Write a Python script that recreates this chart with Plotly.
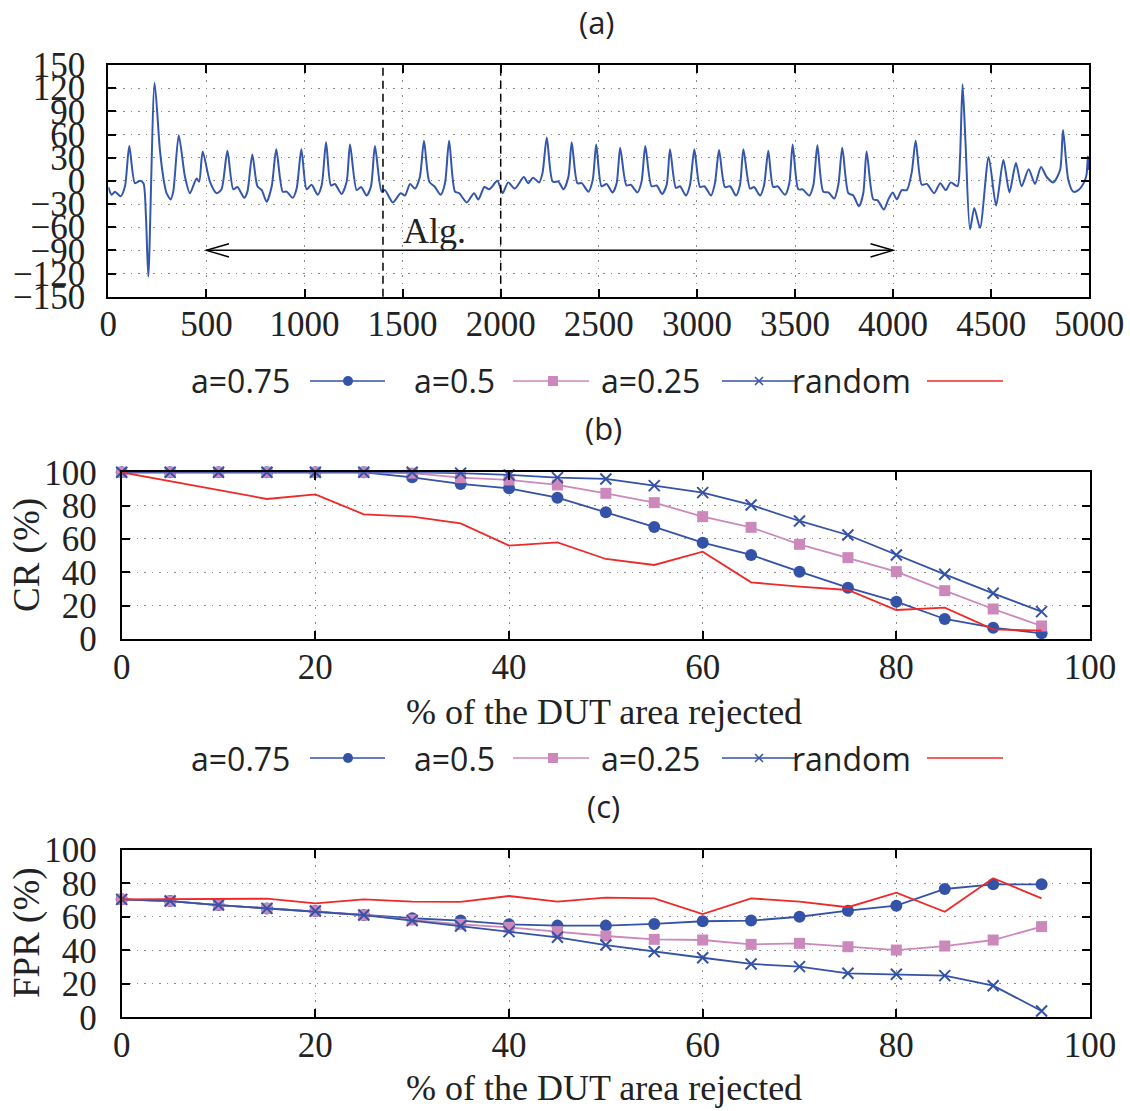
import plotly.graph_objects as go

W, H = 1130, 1111

# ---------------- data ----------------
sig_x = [0, 17, 34, 63, 85, 107, 136, 162, 179, 192, 204, 236, 263, 280, 297, 318, 331, 359, 391, 416,
         450, 463, 481, 518, 552, 577, 607, 637, 658, 693, 709, 734, 760, 782, 807, 833, 856, 889, 909,
         940, 960, 984, 1011, 1036, 1067, 1088, 1110, 1135, 1155, 1189, 1215, 1232, 1266, 1288, 1317,
         1339, 1359, 1393, 1410, 1450, 1490, 1512, 1538, 1563, 1588, 1609, 1636, 1665, 1694, 1716, 1737,
         1767, 1789, 1827, 1864, 1886, 1917, 1942, 1983, 2010, 2038, 2072, 2118, 2140, 2165, 2196, 2213,
         2235, 2265, 2294, 2320, 2345, 2362, 2391, 2413, 2447, 2469, 2487, 2514, 2540, 2570, 2591, 2609,
         2641, 2663, 2697, 2718, 2737, 2769, 2795, 2823, 2846, 2863, 2893, 2914, 2944, 2965, 2987, 3016,
         3038, 3072, 3092, 3113, 3143, 3169, 3199, 3220, 3237, 3271, 3291, 3322, 3342, 3364, 3389, 3411,
         3449, 3471, 3488, 3517, 3539, 3573, 3594, 3614, 3644, 3670, 3700, 3721, 3741, 3772, 3797, 3826,
         3848, 3865, 3899, 3920, 3953, 3976, 3998, 4019, 4044, 4070, 4095, 4115, 4146, 4172, 4209, 4240,
         4269, 4294, 4328, 4341, 4354, 4369, 4392, 4414, 4443, 4487, 4525, 4562, 4593, 4626, 4655, 4691,
         4723, 4754, 4783, 4817, 4851, 4866, 4893, 4918, 4944, 4975, 4986, 4993, 4998]
sig_y = [-8, -18, -14, -20, -7, 45, -3, 0, -3, -47, -124, 127, 40, 5, -16, -24, -14, 59, 5, -16,
         3, -1, 38, -1, -16, -11, 39, -11, -8, -22, -14, 34, -7, -12, -27, -7, 41, -14, -14,
         -22, -10, 41, -11, -5, -18, -5, 50, -6, -4, -17, -1, 47, -12, -8, -19,
         -7, 45, -14, -12, -28, -16, -19, -4, -10, 5, 52, -1, -8, -18, -3, 52,
         -14, -16, -28, -16, -24, -8, -11, 0, -16, -2, -10, 5, -3, 4, -2, 10,
         56, -1, -1, -11, 5, 50, -3, -3, -14, 1, 47, -7, -4, -15, -3, 43,
         -6, -5, -15, -1, 45, -7, -6, -17, -5, 41, -9, -7, -19, -5, 41, -8,
         -7, -19, -3, 40, -8, -7, -19, -5, 41, -10, -8, -19, -6, 39, -8, -7,
         -18, -3, 47, -11, -11, -19, -5, 46, -14, -15, -23, -5, 43, -16, -19, -33,
         -16, 38, -24, -25, -37, -24, -15, -24, -12, -12, 11, 52, -5, -4, -16, -3,
         -12, -2, -7, 30, 125, 50, -63, -35, -61, 31, -32, 27, -15, 23, -7, 15,
         -4, 18, 5, -2, 14, 66, 1, -14, -12, -1, 8, 32, 14]

alg_start, alg_end, alg_level = 500, 4000, -90
alg_marks = [1400, 2000]

pct_rejected = [0, 5, 10, 15, 20, 25, 30, 35, 40, 45, 50, 55, 60, 65, 70, 75, 80, 85, 90, 95]

cr_a075 = [100, 100, 100, 100, 100, 100, 97, 93, 90.4, 84.8, 76, 67.2, 57.8, 50.4, 40.4, 30.8, 22.4, 12, 6.8, 3.4]
cr_a05 = [100, 100, 100, 100, 100, 100, 99.5, 96.8, 95.4, 92.4, 87.4, 81.8, 73.4, 67, 56.8, 48.8, 40.4, 29, 18, 7.8]
cr_a025 = [100, 100, 100, 100, 100, 100, 100, 99.5, 98.4, 96.8, 96, 92, 87.8, 80.4, 70.8, 62.4, 50.4, 38.8, 27.4, 16.4]
cr_rand = [100, 94.7, 89.3, 84, 86.8, 74.8, 73.4, 69.4, 56, 58, 48, 44.4, 52.4, 34, 31.4, 29.4, 17.4, 18.8, 5.8, 5]

fpr_a075 = [70.5, 69.5, 67.1, 65.1, 63.5, 61.1, 59.2, 57.8, 55.6, 54.8, 54.8, 55.8, 57.4, 57.8, 60.1, 63.7, 66.7, 76.7, 79.5, 79.5]
fpr_a05 = [70.5, 69.5, 67.1, 65.1, 63.5, 61.1, 58.2, 55.6, 53.8, 51.2, 48.6, 46.6, 46.2, 43.6, 44.2, 42.2, 40.2, 42.6, 46.2, 54.2]
fpr_a025 = [70.5, 69.5, 67.1, 65.1, 63.5, 61.1, 57.8, 54.6, 51.2, 47.8, 43.2, 39.2, 35.6, 31.9, 30.3, 26.3, 25.7, 24.9, 18.9, 3.8]
fpr_rand = [70.5, 70.5, 70.9, 70.9, 68.1, 70.5, 69.1, 69, 72.5, 69.1, 71.5, 71.1, 61.7, 71.1, 69.1, 65.8, 74.5, 63.1, 83.1, 71.1]

series_names = ["a=0.75", "a=0.5", "a=0.25", "random"]

# ---------------- style ----------------
BLUE = "#3352a8"
PINK = "#cc88bb"
RED = "#f02828"
SIG = "#3457ad"
SERIF = "Liberation Serif"
SANS = "Open Sans"

def px(x):
    return x / W

def py(y):
    return 1 - y / H

fig = go.Figure()

fig.add_trace(go.Scatter(x=sig_x, y=sig_y, mode="lines", line=dict(color=SIG, width=2, shape="spline", smoothing=0.7),
                         xaxis="x", yaxis="y", showlegend=False, hoverinfo="skip"))

styles = [
    dict(mode="lines+markers", line=dict(color=BLUE, width=1.8), marker=dict(symbol="circle", size=12, color=BLUE)),
    dict(mode="lines+markers", line=dict(color=PINK, width=1.8), marker=dict(symbol="square", size=11, color=PINK)),
    dict(mode="lines+markers", line=dict(color=BLUE, width=1.8), marker=dict(symbol="x-thin", size=11, line=dict(color=BLUE, width=2))),
    dict(mode="lines", line=dict(color=RED, width=1.8)),
]

for ys, (xa, ya) in [((cr_a075, cr_a05, cr_a025, cr_rand), ("x2", "y2")),
                     ((fpr_a075, fpr_a05, fpr_a025, fpr_rand), ("x3", "y3"))]:
    for name, yv, st in zip(series_names, ys, styles):
        fig.add_trace(go.Scatter(x=pct_rejected, y=yv, name=name, xaxis=xa, yaxis=ya, showlegend=False,
                                 cliponaxis=False, hoverinfo="skip", **st))

axis_common = dict(showline=True, linecolor="black", linewidth=2, mirror="ticks", ticks="inside",
                   ticklen=8, tickwidth=1.5, tickcolor="black", showgrid=True, gridcolor="#8a8a8a",
                   griddash="1.5px,6px", gridwidth=1, zeroline=False, automargin=False,
                   tickfont=dict(family=SERIF, size=35, color="#222222"))

fig.update_layout(
    template="none",
    width=W, height=H, margin=dict(l=0, r=0, t=0, b=0, autoexpand=False),
    paper_bgcolor="white", plot_bgcolor="white", showlegend=False,
    xaxis=dict(domain=[px(108.3), px(1089.3)], range=[0, 5000], dtick=500, tick0=0, anchor="y",
               ticklabelstandoff=-5, **axis_common),
    yaxis=dict(domain=[py(296.7), py(65)], range=[-150, 150], dtick=30, tick0=0, anchor="x",
               ticklabelstandoff=14, **axis_common),
    xaxis2=dict(domain=[px(121.7), px(1090)], range=[0, 100], dtick=20, anchor="y2",
                ticklabelstandoff=-4, **axis_common),
    yaxis2=dict(domain=[py(639), py(472.3)], range=[0, 100], dtick=20, anchor="x2",
                ticklabelstandoff=16, **axis_common),
    xaxis3=dict(domain=[px(121.7), px(1090)], range=[0, 100], dtick=20, anchor="y3",
                ticklabelstandoff=-4, **axis_common),
    yaxis3=dict(domain=[py(1017.3), py(850)], range=[0, 100], dtick=20, anchor="x3",
                ticklabelstandoff=16, **axis_common),
)

shapes = []
# dashed markers in panel (a)
for xm in alg_marks:
    shapes.append(dict(type="line", xref="x", yref="y domain", x0=xm, x1=xm, y0=0, y1=1,
                       line=dict(color="black", width=1.5, dash="8px,5px")))
# Alg. arrow
shapes.append(dict(type="line", xref="x", yref="y", x0=alg_start, x1=alg_end, y0=alg_level, y1=alg_level,
                   line=dict(color="black", width=1.5)))
hl, hh = 115, 8.5
shapes.append(dict(type="path", xref="x", yref="y",
                   path=f"M {alg_start+hl},{alg_level+hh} L {alg_start},{alg_level} L {alg_start+hl},{alg_level-hh}",
                   line=dict(color="black", width=1.5)))
shapes.append(dict(type="path", xref="x", yref="y",
                   path=f"M {alg_end-hl},{alg_level+hh} L {alg_end},{alg_level} L {alg_end-hl},{alg_level-hh}",
                   line=dict(color="black", width=1.5)))

annotations = [
    dict(text="Alg.", x=1662, y=-65, xref="x", yref="y", showarrow=False,
         font=dict(family=SERIF, size=36, color="#222222")),
]

# panel titles
for t, (cx, cy) in zip(["(a)", "(b)", "(c)"], [(597, 22), (603, 428), (603, 806)]):
    annotations.append(dict(text=t, x=px(cx), y=py(cy), xref="paper", yref="paper", showarrow=False,
                            xanchor="center", yanchor="middle", font=dict(family=SANS, size=31, color="#222222")))

# axis titles
for t, (cx, cy) in zip(["CR (%)", "FPR (%)"], [(27, 555), (27, 933)]):
    annotations.append(dict(text=t, x=px(cx), y=py(cy), xref="paper", yref="paper", showarrow=False,
                            textangle=-90, xanchor="center", yanchor="middle",
                            font=dict(family=SERIF, size=37, color="#222222")))
for cy in [712, 1088]:
    annotations.append(dict(text="% of the DUT area rejected", x=px(604), y=py(cy), xref="paper", yref="paper",
                            showarrow=False, xanchor="center", yanchor="middle",
                            font=dict(family=SERIF, size=36, color="#222222")))

# custom legends (text left of key)
text_cx = [240, 454, 650, 851]
key_x = [(310, 385), (513, 589), (722, 796), (927, 1003)]
key_c = [348, 553, 759, None]
key_col = [BLUE, PINK, BLUE, RED]
for ly in [381, 758]:
    for i, name in enumerate(series_names):
        annotations.append(dict(text=name, x=px(text_cx[i]), y=py(ly), xref="paper", yref="paper",
                                showarrow=False, xanchor="center", yanchor="middle",
                                font=dict(family=SANS, size=32, color="#222222")))
        x0, x1 = key_x[i]
        shapes.append(dict(type="line", xref="paper", yref="paper", x0=px(x0), x1=px(x1), y0=py(ly), y1=py(ly),
                           line=dict(color=key_col[i], width=1.5)))
        c = key_c[i]
        if i == 0:
            r = 5
            shapes.append(dict(type="circle", xref="paper", yref="paper", x0=px(c - r), x1=px(c + r),
                               y0=py(ly + r), y1=py(ly - r), fillcolor=BLUE, line=dict(color=BLUE, width=0)))
        elif i == 1:
            r = 5
            shapes.append(dict(type="rect", xref="paper", yref="paper", x0=px(c - r), x1=px(c + r),
                               y0=py(ly + r), y1=py(ly - r), fillcolor=PINK, line=dict(color=PINK, width=0)))
        elif i == 2:
            r = 4
            shapes.append(dict(type="path", xref="paper", yref="paper",
                               path=f"M {px(c-r)},{py(ly-r)} L {px(c+r)},{py(ly+r)} M {px(c-r)},{py(ly+r)} L {px(c+r)},{py(ly-r)}",
                               line=dict(color=BLUE, width=1.5)))

fig.update_layout(shapes=shapes, annotations=annotations)

fig.write_html("out.html", config={"displayModeBar": False},
               post_script="document.body.style.margin='0';document.body.style.overflow='hidden';")
